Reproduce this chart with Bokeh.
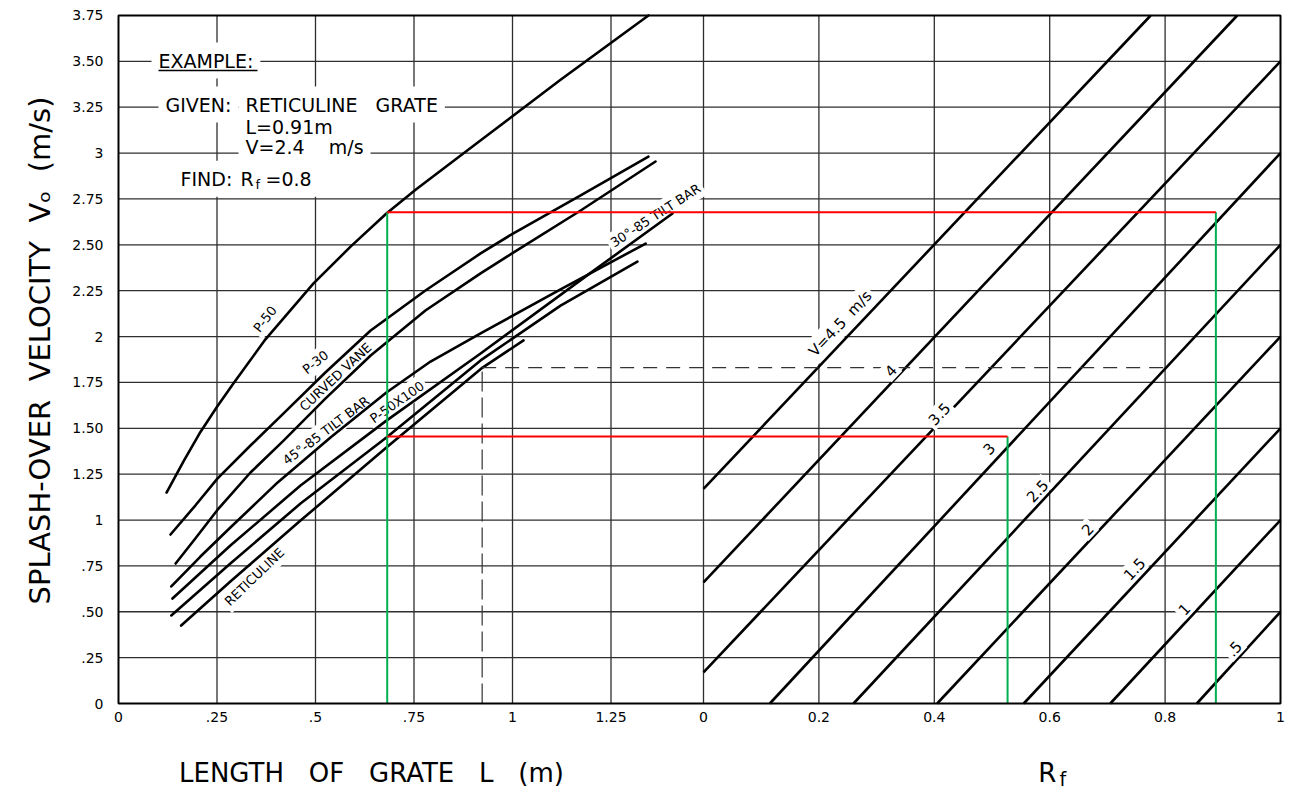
import math
from bokeh.plotting import figure
from bokeh.models import Range1d, FixedTicker
from bokeh.core.properties import value
from bokeh.embed import file_html
from bokeh.resources import INLINE

FONT = "DejaVu Sans"
NB = "\u00a0"

# ---------------- data: left panel (L in m, Vo in m/s) ----------------
p50_L = [0.122, 0.165, 0.208, 0.251, 0.292, 0.373, 0.495, 0.589, 0.680, 0.754, 0.901, 1.122, 1.345]
p50_V = [1.150, 1.320, 1.480, 1.620, 1.745, 1.985, 2.290, 2.490, 2.671, 2.800, 3.040, 3.400, 3.750]
p30_L = [0.132, 0.195, 0.251, 0.335, 0.419, 0.525, 0.640, 0.779, 0.919, 1.000, 1.173, 1.345]
p30_V = [0.921, 1.079, 1.226, 1.406, 1.581, 1.804, 2.033, 2.251, 2.453, 2.560, 2.769, 2.981]
cv_L = [0.145, 0.195, 0.251, 0.335, 0.419, 0.525, 0.640, 0.779, 0.919, 1.000, 1.173, 1.363]
cv_V = [0.763, 0.899, 1.055, 1.259, 1.433, 1.662, 1.897, 2.142, 2.344, 2.455, 2.687, 2.954]
t45_L = [0.134, 0.208, 0.284, 0.404, 0.538, 0.680, 0.792, 0.919, 1.122, 1.338]
t45_V = [0.638, 0.801, 0.959, 1.205, 1.450, 1.695, 1.864, 2.017, 2.257, 2.507]
t30_L = [0.137, 0.284, 0.462, 0.680, 0.919, 1.193, 1.406]
t30_V = [0.572, 0.861, 1.188, 1.542, 1.908, 2.339, 2.671]
p5010_L = [0.134, 0.284, 0.462, 0.680, 0.919, 1.122, 1.317]
p5010_V = [0.480, 0.763, 1.090, 1.450, 1.870, 2.169, 2.409]
ret_L = [0.159, 0.284, 0.462, 0.680, 0.924, 1.028]
ret_V = [0.425, 0.665, 0.997, 1.395, 1.831, 1.979]

curve_names = ["P-50", "P-30", "CURVED" + NB + "VANE", "45°-85" + NB + "TILT" + NB + "BAR",
               "30°-85" + NB + "TILT" + NB + "BAR", "P-50X100", "RETICULINE"]
curve_label_L = [0.372, 0.500, 0.551, 0.527, 1.363, 0.707, 0.345]
curve_label_V = [2.095, 1.860, 1.780, 1.488, 2.660, 1.642, 0.690]
curve_label_deg = [52, 38, 43, 37, 33, 35, 44]

# ---------------- data: right panel (Rf vs Vo) ----------------
v_values = [4.5, 4, 3.5, 3, 2.5, 2, 1.5, 1, 0.5]
v_rf0 = [0.0, 0.0, 0.0, 0.115, 0.260, 0.405, 0.555, 0.705, 0.855]
v_vo0 = [1.17, 0.66, 0.17, 0.0, 0.0, 0.0, 0.0, 0.0, 0.0]
v_rf1 = [0.775, 0.925, 1.0, 1.0, 1.0, 1.0, 1.0, 1.0, 1.0]
v_vo1 = [3.75, 3.75, 3.5, 3.0, 2.5, 2.0, 1.5, 1.0, 0.5]
v_text = ["V=4.5" + NB + NB + "m/s", "4", "3.5", "3", "2.5", "2", "1.5", "1", ".5"]
v_text_rf = [0.237, 0.324, 0.408, 0.494, 0.578, 0.665, 0.746, 0.8325, 0.919]
v_text_vo = [2.07, 1.815, 1.58, 1.39, 1.16, 0.95, 0.735, 0.515, 0.30]

# example (dashed) and worked lines (red / green)
ex_L, ex_vo, ex_rf = 0.923, 1.831, 0.80
rg_L = 0.682
rg_vo = [2.677, 1.455]
rg_rf = [0.888, 0.527]

# axis ticks
y_ticks = [0, 0.25, 0.5, 0.75, 1, 1.25, 1.5, 1.75, 2, 2.25, 2.5, 2.75, 3, 3.25, 3.5, 3.75]
y_tick_labels = ["0", ".25", ".50", ".75", "1", "1.25", "1.50", "1.75", "2", "2.25", "2.50",
                 "2.75", "3", "3.25", "3.50", "3.75"]
L_ticks = [0, 0.25, 0.5, 0.75, 1.0, 1.25]
L_tick_labels = ["0", ".25", ".5", ".75", "1", "1.25"]
rf_ticks = [0, 0.2, 0.4, 0.6, 0.8, 1.0]
rf_tick_labels = ["0", "0.2", "0.4", "0.6", "0.8", "1"]

# example text block
blk_text = ["EXAMPLE:", "GIVEN:", "RETICULINE" + NB * 3 + "GRATE", "L=0.91m", "V=2.4" + NB * 4 + "m/s",
            "FIND:", "R", "=0.8"]
blk_x = [0.1015, 0.1193, 0.3223, 0.3223, 0.3223, 0.1574, 0.3096, 0.3731]
blk_y = [3.5046, 3.2648, 3.2648, 3.1411, 3.0321, 2.8598, 2.8598, 2.8598]

# ---------------- ranges (frame = whole canvas; chart box is L 0.., Vo 0..3.75) ----------------
L_START, L_END = -0.29949, 2.97462
V_START, V_END = -0.46874, 3.83169
RF_START, RF_END = -1.21837, 1.01733
V_TOP = 3.75
PX_L = 394.0  # pixels per metre of L in this layout


def rf_to_L(rf):
    return L_START + (rf - RF_START) / (RF_END - RF_START) * (L_END - L_START)


L_BOX_END = rf_to_L(1.0)

p = figure(width=1290, height=789, x_range=Range1d(L_START, L_END), y_range=Range1d(V_START, V_END),
           output_backend="svg", toolbar_location=None, min_border=0,
           background_fill_color="white", border_fill_color="white")
p.extra_x_ranges = {"rf": Range1d(RF_START, RF_END)}
p.outline_line_color = None
p.xgrid.visible = False
p.ygrid.visible = False

# axes through the chart box corner
x_tick_pos = L_ticks + [rf_to_L(r) for r in rf_ticks]
x_tick_txt = L_tick_labels + rf_tick_labels
p.xaxis.ticker = FixedTicker(ticks=x_tick_pos)
p.xaxis.major_label_overrides = {t: s for t, s in zip(x_tick_pos, x_tick_txt)}
p.yaxis.ticker = FixedTicker(ticks=y_ticks)
p.yaxis.major_label_overrides = {t: s for t, s in zip(y_ticks, y_tick_labels)}
p.xaxis.fixed_location = 0
p.yaxis.fixed_location = 0
for ax in (p.xaxis, p.yaxis):
    ax.axis_line_color = None
    ax.major_tick_line_color = None
    ax.minor_tick_line_color = None
    ax.major_tick_out = 0
    ax.major_tick_in = 0
    ax.major_label_text_font = FONT
    ax.major_label_text_font_size = "14px"
    ax.major_label_text_color = "black"
p.xaxis.major_label_standoff = 8
p.yaxis.major_label_standoff = 15

# grid lines at the tick positions (inside the chart box only)
GRID_C = "#2e2e2e"
L_grid = L_ticks[1:]
rf_grid = rf_ticks[:-1]
y_grid = y_ticks[1:-1]
p.segment(x0=L_grid, y0=[0] * len(L_grid), x1=L_grid, y1=[V_TOP] * len(L_grid),
          line_color=GRID_C, line_width=1.3)
p.segment(x0=rf_grid, y0=[0] * len(rf_grid), x1=rf_grid, y1=[V_TOP] * len(rf_grid),
          x_range_name="rf", line_color=GRID_C, line_width=1.3)
p.segment(x0=[0] * len(y_grid), y0=y_grid, x1=[L_BOX_END] * len(y_grid), y1=y_grid,
          line_color=GRID_C, line_width=1.3)

# ---------------- labels on curves (backing under the curves) ----------------
p.text(x=curve_label_L, y=curve_label_V, text=curve_names,
       angle=[math.radians(a) for a in curve_label_deg],
       text_font=value(FONT), text_font_size="13px", text_align="center", text_baseline="middle",
       text_color="black", text_alpha=0, background_fill_color="white", padding=3)

# ---------------- left curves ----------------
for xs, ys in [(p50_L, p50_V), (p30_L, p30_V), (cv_L, cv_V), (t45_L, t45_V),
               (t30_L, t30_V), (p5010_L, p5010_V), (ret_L, ret_V)]:
    p.line(xs, ys, line_color="black", line_width=2.6, line_join="round", line_cap="round")

p.text(x=curve_label_L, y=curve_label_V, text=curve_names,
       angle=[math.radians(a) for a in curve_label_deg],
       text_font=value(FONT), text_font_size="13px", text_align="center", text_baseline="middle",
       text_color="black", padding=3)

# ---------------- right diagonal lines ----------------
p.segment(x0=v_rf0, y0=v_vo0, x1=v_rf1, y1=v_vo1, x_range_name="rf",
          line_color="black", line_width=2.6)

# ---------------- example dashed lines ----------------
p.line([ex_L, ex_L], [0, ex_vo], line_color="#333333", line_width=1.2, line_dash="20 6")
p.line([ex_L, rf_to_L(ex_rf)], [ex_vo, ex_vo], line_color="#333333", line_width=1.2, line_dash="14 9")

line_angle = math.atan((3.34 * 688 / 3.75) / 577.0)
p.text(x=v_text_rf, y=v_text_vo, text=v_text, angle=line_angle, x_range_name="rf",
       text_font=value(FONT), text_font_size="15px", text_align="center", text_baseline="middle",
       text_color="black", background_fill_color="white", padding=3)

# ---------------- worked example (red / green) ----------------
GREEN = "#00b050"
RED = "#ff0000"
p.line([rg_L, rg_L], [0, rg_vo[0]], line_color=GREEN, line_width=2)
for vo, rf in zip(rg_vo, rg_rf):
    p.line([rf, rf], [0, vo], x_range_name="rf", line_color=GREEN, line_width=2)
    p.line([rg_L, rf_to_L(rf)], [vo, vo], line_color=RED, line_width=2)

# ---------------- chart box ----------------
p.quad(left=0, right=L_BOX_END, bottom=0, top=V_TOP, fill_color=None, line_color="black", line_width=2)

# ---------------- example text block (white backing first, then the text) ----------------
PAD = 7
blk_xs = [x - PAD / PX_L for x in blk_x]
p.text(x=blk_xs, y=blk_y, text=blk_text, text_font=value(FONT), text_font_size="19px",
       text_align="left", text_baseline="middle", text_color="black", text_alpha=0,
       background_fill_color="white", padding=PAD)
p.text(x=blk_xs, y=blk_y, text=blk_text, text_font=value(FONT), text_font_size="19px",
       text_align="left", text_baseline="middle", text_color="black", padding=PAD)
p.text(x=[0.3477], y=[2.8288], text=["f"], text_font=value(FONT), text_font_size="13px",
       text_align="left", text_baseline="middle", text_color="black")
p.line([0.1015, 0.3528], [3.45, 3.45], line_color="black", line_width=1.5)

# ---------------- axis titles ----------------
p.text(x=[-0.198], y=[1.924], text=["SPLASH-OVER" + NB * 2 + "VELOCITY" + NB * 2 + "Vₒ" + NB * 2 + "(m/s)"],
       angle=math.pi / 2, text_font=value(FONT), text_font_size="29px",
       text_align="center", text_baseline="middle", text_color="black")
p.text(x=[0.642], y=[-0.3815], text=["LENGTH" + NB * 3 + "OF" + NB * 3 + "GRATE" + NB * 3 + "L" + NB * 3 + "(m)"],
       text_font=value(FONT), text_font_size="26px",
       text_align="center", text_baseline="middle", text_color="black")
p.text(x=[0.596], y=[-0.3815], text=["R"], x_range_name="rf",
       text_font=value(FONT), text_font_size="26px",
       text_align="center", text_baseline="middle", text_color="black")
p.text(x=[0.617], y=[-0.414], text=["f"], x_range_name="rf",
       text_font=value(FONT), text_font_size="19px",
       text_align="left", text_baseline="middle", text_color="black")

open("out.html", "w").write(file_html(p, INLINE))
